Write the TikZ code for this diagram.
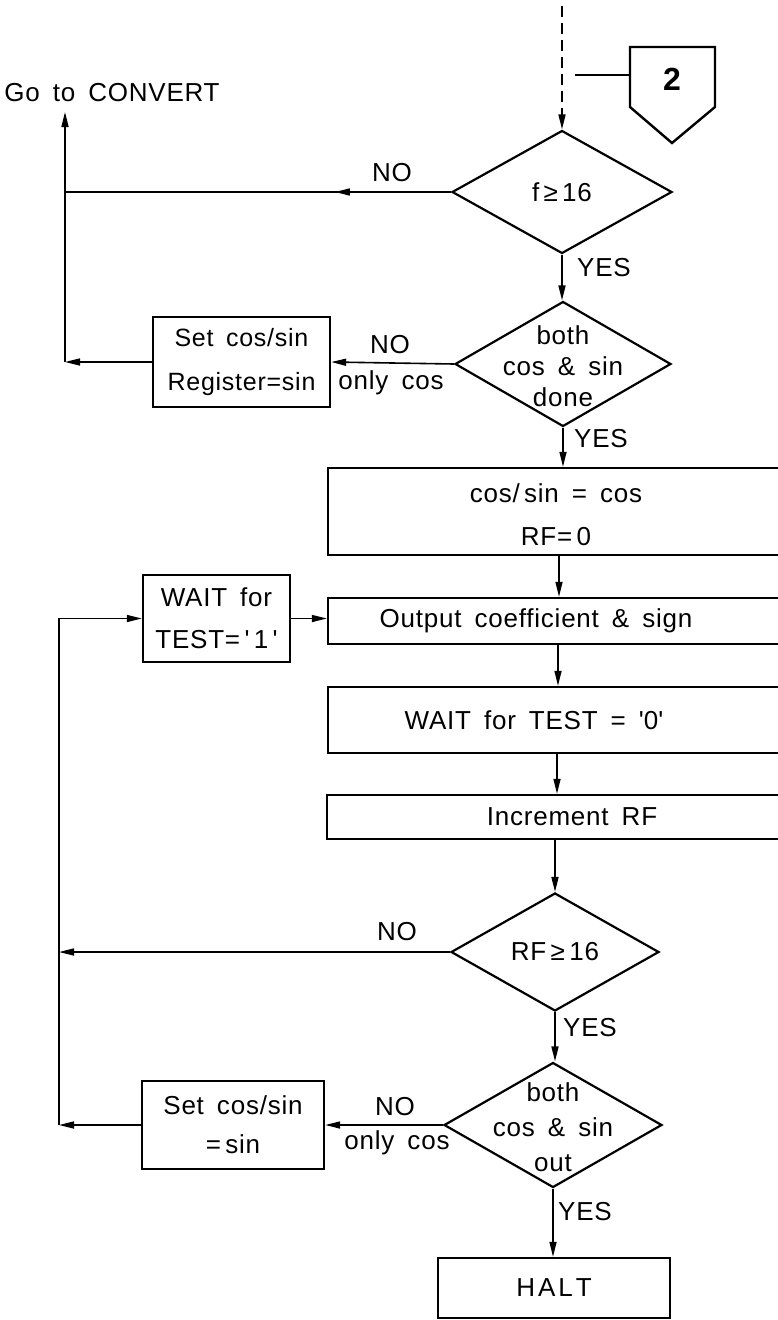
\documentclass[tikz,border=0pt]{standalone}
\usepackage{fontspec}
\setmainfont{Liberation Sans}[LetterSpace=3]
\usetikzlibrary{arrows.meta,shapes.geometric}
\begin{document}
\begin{tikzpicture}[x=1pt,y=-1pt,
  tf/.style={font=\fontsize{26}{30}\selectfont, execute at begin node={\spaceskip=0.5em\relax}},
  box/.style={tf,draw,line width=2.4pt,rectangle,inner sep=0pt},
  dia/.style={draw,line width=2.2pt,diamond,inner sep=0pt},
  txt/.style={tf,inner sep=0pt,align=center},
  ln/.style={line width=1.6pt},
  arr/.style={ln,-{Triangle[length=15pt,width=7pt]}},
]
\useasboundingbox (0,0) rectangle (778,1320);
\fill[white] (0,0) rectangle (778,1320);
\clip (0,0) rectangle (778,1320);

% connector 2
\draw[line width=2.4pt] (630,47) -- (715,47) -- (715,107) -- (672,143) -- (630,107) -- cycle;
\node[txt,font=\fontsize{32}{36}\selectfont\bfseries] (c2) at (672,79) {2};
\coordinate (c2l) at (630,75);
\coordinate (c2r) at (575,75);
\draw[ln] (c2l) -- (c2r);

% decisions and boxes
\node[dia, minimum width=220pt, minimum height=123pt] (f) at (562,192) {};
\node[txt] (ft) at (f.center) {f\,≥\,16};

\node[dia, minimum width=216pt, minimum height=125pt] (d2) at (563,364) {};
\node[txt, font=\fontsize{26}{31}\selectfont] (d2t) at (563,366) {both\\cos \& sin\\done};

\node[box, minimum width=177pt, minimum height=90pt, align=center, font=\fontsize{25}{44}\selectfont] (b1) at (241.5,362) {Set cos/sin\\Register=sin};

\node[box, minimum width=482pt, minimum height=87pt] (b2) at (569,511.5) {};
\node[txt, font=\fontsize{26}{43}\selectfont] (b2t) at (556,515) {cos/\,sin = cos\\RF=\,0};

\node[box, minimum width=147pt, minimum height=87pt, align=center, font=\fontsize{26}{42}\selectfont] (w1) at (216.5,618.5) {WAIT for\\TEST=\,\textquotesingle\,1\,\textquotesingle};

\node[box, minimum width=482pt, minimum height=46pt] (b3) at (569,621) {};
\node[txt] (b3t) at (536,621) {Output coefficient \& sign};

\node[box, minimum width=482pt, minimum height=66pt] (b4) at (569,720) {};
\node[txt] (b4t) at (534,720) {WAIT for TEST = \textquotesingle 0\textquotesingle};

\node[box, minimum width=483pt, minimum height=44pt] (b5) at (568.5,817) {};
\node[txt] (b5t) at (572,817) {Increment RF};

\node[dia, minimum width=208pt, minimum height=118pt] (rf) at (555,952) {};
\node[txt] (rft) at (rf.center) {RF\,≥\,16};

\node[dia, minimum width=218pt, minimum height=125pt] (d3) at (553,1125) {};
\node[txt, font=\fontsize{26}{35}\selectfont] (d3t) at (553,1127) {both\\cos \& sin\\out};

\node[box, minimum width=182pt, minimum height=88pt, align=center, font=\fontsize{26}{39}\selectfont] (b6) at (233,1125) {Set cos/sin\\=\,sin};

\node[box, minimum width=232pt, minimum height=60pt] (halt) at (554,1288) {H\hspace{3pt}A\hspace{3pt}L\hspace{3pt}T};

% top entry
\coordinate (top) at (562,6);
\coordinate (dend) at (562,110);
\draw[ln, dash pattern=on 11pt off 6pt] (top) -- (dend);
\draw[arr] (dend) -- (f.north);

% go to convert loop
\coordinate (cnv) at (65,112);
\node[txt] (gc) at (112,93) {Go to CONVERT};
\coordinate (j1) at (cnv |- b1.west);
\draw[ln] (f.west) -- (f.west -| cnv);
\draw[arr] (f.west) -- ++(-116,0);
\draw[arr] (d2.west) -- (b1.east);
\draw[arr] (b1.west) -- (j1);
\draw[arr] (j1) -- (cnv);

% main flow
\draw[arr] (f.south) -- (f.south |- d2.north);
\draw[arr] (d2.south) -- (d2.south |- b2.north);
\coordinate (ax1) at (559,0);
\coordinate (ax2) at (558,0);
\coordinate (ax3) at (557,0);
\draw[arr] (b2.south -| ax1) -- (b3.north -| ax1);
\draw[arr] (b3.south -| ax2) -- (b4.north -| ax2);
\draw[arr] (b4.south -| ax3) -- (b5.north -| ax3);
\draw[arr] (b5.south -| rf.north) -- (rf.north);
\draw[arr] (rf.south) -- (rf.south |- d3.north);
\draw[arr] (d3.south) -- (d3.south |- halt.north);

% output loop
\coordinate (lx) at (59,0);
\draw[arr] (rf.west) -- (rf.west -| lx);
\draw[arr] (d3.west) -- (b6.east);
\draw[arr] (b6.west) -- (b6.west -| lx);
\draw[arr] (b6.west -| lx) -- (lx |- w1.west) -- (w1.west);
\draw[arr] (w1.east) -- (w1.east -| b3.west);

% labels
\node[txt] (no1) at (392,173) {NO};
\node[txt] (yes1) at (604,268) {YES};
\node[txt] (no2) at (390,345) {NO};
\node[txt] (oc2) at (391,383) {only cos};
\node[txt] (yes2) at (601,439) {YES};
\node[txt] (no3) at (397,932) {NO};
\node[txt] (yes3) at (590,1028) {YES};
\node[txt] (no4) at (395,1107) {NO};
\node[txt] (oc4) at (397,1143) {only cos};
\node[txt] (yes4) at (585,1212) {YES};
\end{tikzpicture}
\end{document}
